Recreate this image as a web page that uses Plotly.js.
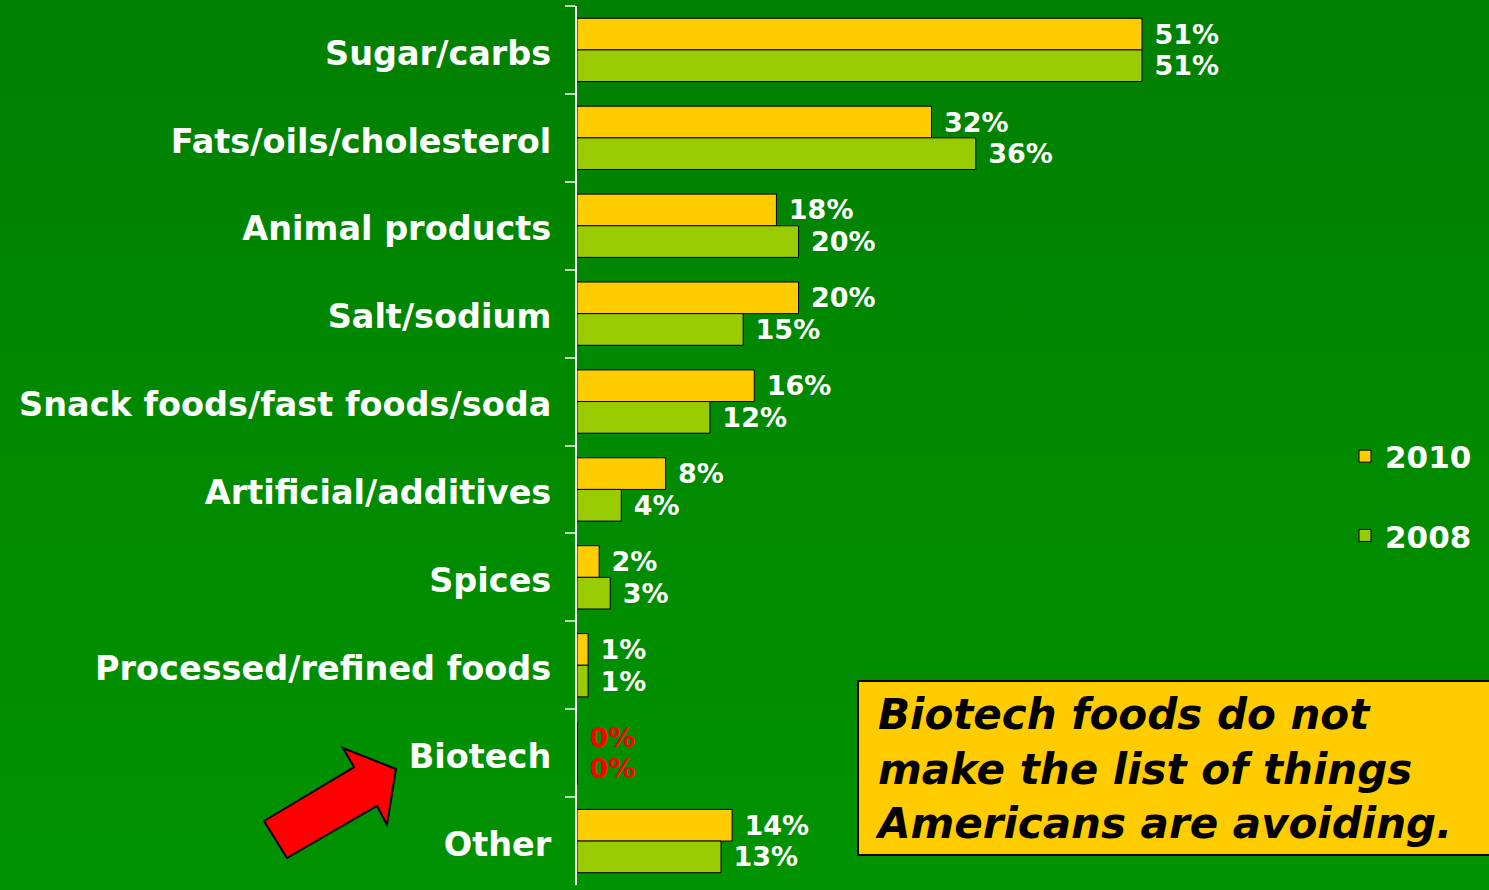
<!DOCTYPE html>
<html><head><meta charset="utf-8">
<script src="https://cdn.plot.ly/plotly-3.0.1.min.js"></script>
<style>html,body{margin:0;padding:0;}
#chart{background:linear-gradient(to bottom,#008000 0%,#008a00 50%,#009200 100%);}</style>
</head><body>
<div id="chart" style="width:1489px;height:890px;"></div>
<script>
const categories = ["Sugar/carbs","Fats/oils/cholesterol","Animal products","Salt/sodium","Snack foods/fast foods/soda","Artificial/additives","Spices","Processed/refined foods","Biotech","Other"];
const values2010 = [51,32,18,20,16,8,2,1,0,14];
const values2008 = [51,36,20,15,12,4,3,1,0,13];
const seriesNames = ["2010","2008"];
const highlightCategory = "Biotech";
const noteText = "Biotech foods do not<br>make the list of things<br>Americans are avoiding.";

const W = 1489, H = 890;
const M = {l:577, r:0, t:6, b:5};
const pw = W - M.l - M.r, ph = H - M.t - M.b;
const px = x => (x - M.l) / pw;
const py = y => 1 - (y - M.t) / ph;
const pxPerUnit = 565/51;

const FONT = 'DejaVu Sans';
const textColors = categories.map(c => c === highlightCategory ? '#ff0000' : '#ffffff');

function barTrace(name, vals, color){
  return {
    type:'bar', orientation:'h', name:name, y:categories, x:vals,
    legendgroup:name,
    marker:{color:color, line:{color:'#000000', width:1}},
    text: vals.map(v => '\u00a0' + v + '%'), textposition:'outside', cliponaxis:false,
    constraintext:'none',
    textfont:{family:FONT, size:27, weight:'bold', color:textColors},
    hoverinfo:'skip'
  };
}

const data = [barTrace(seriesNames[0], values2010, '#ffcc00'), barTrace(seriesNames[1], values2008, '#99cc00')];

const arrowPts = [[264,821],[354,767],[343,748],[396,769],[387,825],[377,806],[287,858]];
const arrowPath = 'M ' + arrowPts.map(p => px(p[0]).toFixed(4)+' '+py(p[1]).toFixed(4)).join(' L ') + ' Z';

const layout = {
  width:W, height:H, margin:M,
  paper_bgcolor:'rgba(0,0,0,0)', plot_bgcolor:'rgba(0,0,0,0)',
  barmode:'group', bargap:0.28, bargroupgap:0,
  showlegend:true,
  legend:{x:px(1345), y:py(496), xanchor:'left', yanchor:'middle', traceorder:'grouped', tracegroupgap:36,
    font:{family:FONT, size:31, weight:'bold', color:'#ffffff'}, bgcolor:'rgba(0,0,0,0)'},
  xaxis:{range:[0, pw/pxPerUnit], visible:false, fixedrange:true},
  yaxis:{type:'category', autorange:'reversed', showline:true, linecolor:'#ffffff', linewidth:2,
    ticks:'outside', tickson:'boundaries', ticklen:10, tickcolor:'#b8d8b8', tickwidth:2,
    ticklabelstandoff:17, ticklabelshift:-3, showgrid:false, zeroline:false,
    tickfont:{family:FONT, size:33.5, weight:'bold', color:'#ffffff'}},
  shapes:[
    {type:'rect', xref:'paper', yref:'paper', x0:px(858), x1:px(1495), y0:py(855), y1:py(681),
     fillcolor:'#ffcc00', line:{color:'#000000', width:2}},
    {type:'path', xref:'paper', yref:'paper', path:arrowPath, fillcolor:'#ff0000', line:{color:'#000000', width:2}}
  ],
  annotations:[
    {xref:'paper', yref:'paper', x:px(873), y:py(769), xanchor:'left', yanchor:'middle', align:'left',
     showarrow:false, text:noteText,
     font:{family:FONT, size:42, weight:'bold', style:'italic', color:'#000000'}}
  ]
};
Plotly.newPlot('chart', data, layout, {displayModeBar:false, staticPlot:true});
</script>
</body></html>
